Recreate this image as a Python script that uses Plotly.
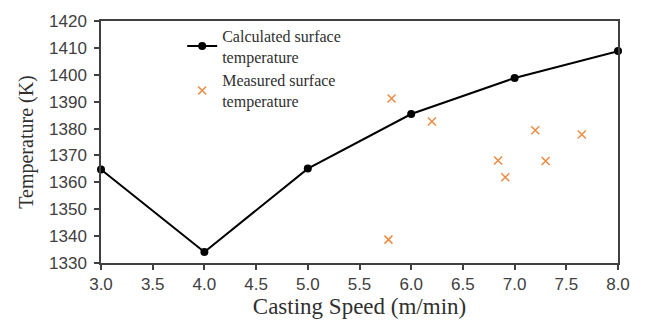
import plotly.graph_objects as go

calc_speed = [3.0, 4.0, 5.0, 6.0, 7.0, 8.0]
calc_temp = [1364.8, 1334.1, 1365.1, 1385.4, 1398.8, 1408.8]

meas_speed = [5.81, 6.20, 7.20, 7.65, 6.84, 7.30, 6.91, 5.78]
meas_temp = [1391.2, 1382.6, 1379.4, 1377.8, 1368.1, 1367.9, 1361.9, 1338.7]

x_ticks = [3.0, 3.5, 4.0, 4.5, 5.0, 5.5, 6.0, 6.5, 7.0, 7.5, 8.0]
y_ticks = [1330, 1340, 1350, 1360, 1370, 1380, 1390, 1400, 1410, 1420]

fig = go.Figure()
fig.add_trace(go.Scatter(
    x=calc_speed, y=calc_temp, mode="lines+markers",
    name="Calculated surface<br>temperature",
    line=dict(color="black", width=2),
    marker=dict(color="black", size=8, symbol="circle"),
    cliponaxis=False,
))
fig.add_trace(go.Scatter(
    x=meas_speed, y=meas_temp, mode="markers",
    name="Measured surface<br>temperature",
    marker=dict(color="#f0a060", size=8, symbol="x-thin", line=dict(color="#f08a40", width=1.5)),
    cliponaxis=False,
))

axis_common = dict(
    showgrid=False, zeroline=False, showline=True, linecolor="#404040", linewidth=1.5,
    ticks="outside", ticklen=5, tickcolor="#404040", tickwidth=1.5,
    tickfont=dict(family="Liberation Sans", size=17, color="#404040"),
    mirror=True,
)

fig.update_xaxes(
    range=[3.0, 8.0], tickvals=x_ticks, ticktext=[f"{v:.1f}" for v in x_ticks],
    title=dict(text="Casting Speed (m/min)", font=dict(family="Liberation Serif", size=23, color="#303030"), standoff=2),
    **axis_common,
)
fig.update_yaxes(
    range=[1330, 1420], tickvals=y_ticks, ticklabelstandoff=4,
    title=dict(text="Temperature (K)", font=dict(family="Liberation Serif", size=20, color="#303030"), standoff=10),
    **axis_common,
)

fig.update_layout(
    width=650, height=327,
    margin=dict(l=101, r=32, t=14, b=64),
    plot_bgcolor="white", paper_bgcolor="white",
    legend=dict(x=0.157, y=1.01, xanchor="left", yanchor="top",
                font=dict(family="Liberation Serif", size=16, color="#303030"),
                bgcolor="rgba(0,0,0,0)", tracegroupgap=0),
    showlegend=True,
)

fig.write_html("out.html")
